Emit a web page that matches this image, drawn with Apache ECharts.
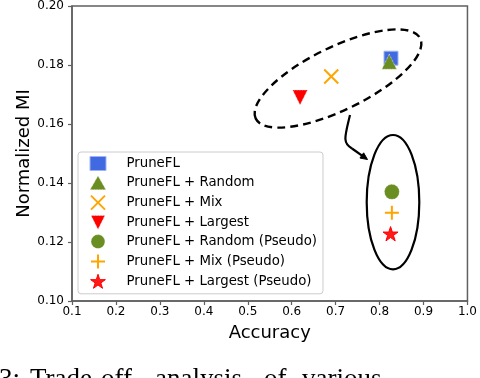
<!DOCTYPE html>
<html>
<head>
<meta charset="utf-8">
<script src="https://cdn.jsdelivr.net/npm/echarts@6/dist/echarts.min.js"></script>
<style>
html,body{margin:0;padding:0;background:#fff;}
#chart{width:480px;height:378px;}
</style>
</head>
<body>
<div id="chart"></div>
<script>
// ---- data ----
const seriesNames = [
  'PruneFL',
  'PruneFL + Random',
  'PruneFL + Mix',
  'PruneFL + Largest',
  'PruneFL + Random (Pseudo)',
  'PruneFL + Mix (Pseudo)',
  'PruneFL + Largest (Pseudo)'
];
const accuracy = [0.826, 0.822, 0.690, 0.619, 0.828, 0.828, 0.825];
const normalizedMI = [0.1823, 0.1811, 0.1761, 0.1690, 0.1370, 0.1299, 0.1228];
const xTicks = [0.1, 1.0, 0.1];   // min, max, step
const yTicks = [0.10, 0.20, 0.02];

// ---- styles ----
const STAR = 'path://M50,0L61.23,34.55L97.55,34.55L68.17,55.9L79.39,90.45L50,69.1L20.61,90.45L31.83,55.9L2.45,34.55L38.77,34.55Z';
const styles = [
  {symbol:'rect', size:14, item:{color:'#4169e1', borderColor:'#9fb4f3', borderWidth:1}},
  {symbol:'triangle', size:15, item:{color:'#6b8e23', borderColor:'rgba(255,255,255,0.85)', borderWidth:0.8, borderType:'dotted'}},
  {symbol:'path://M0,0L10,10M10,0L0,10', size:14, item:{color:'#ffa500', borderColor:'#ffa500', borderWidth:2}},
  {symbol:'path://M0,0L20,0L10,20Z', size:15, item:{color:'#ff0000', borderColor:'rgba(255,255,255,0.85)', borderWidth:0.8, borderType:'dotted'}},
  {symbol:'circle', size:15, item:{color:'#6b8e23', borderColor:'rgba(255,255,255,0.85)', borderWidth:0.8, borderType:'dotted'}},
  {symbol:'path://M5,0L5,10M0,5L10,5', size:14, item:{color:'#ffa500', borderColor:'#ffa500', borderWidth:2}},
  {symbol:STAR, size:15, item:{color:'#ff1a1a', borderColor:'#ff0000', borderWidth:1}}
];

const AXIS = '#606060';
const FONT = 'DejaVu Sans';

const series = seriesNames.map((n, i) => ({
  name: n,
  type: 'scatter',
  data: [[accuracy[i], normalizedMI[i]]],
  symbol: styles[i].symbol,
  symbolSize: styles[i].size,
  symbolKeepAspect: true,
  itemStyle: Object.assign({opacity:1}, styles[i].item),
  emphasis: {disabled: true},
  z: 5
}));

const legendData = seriesNames.map((n, i) => ({
  name: n,
  icon: styles[i].symbol,
  itemStyle: Object.assign({opacity:1}, styles[i].item)
}));

const chart = echarts.init(document.getElementById('chart'), null, {renderer:'canvas'});

// annotation helpers (pixel space decorations)
function arrowHead(tip, from, len, half) {
  const dx = tip[0]-from[0], dy = tip[1]-from[1];
  const d = Math.hypot(dx, dy), ux = dx/d, uy = dy/d;
  const bx = tip[0]-ux*len, by = tip[1]-uy*len;
  return [[tip[0], tip[1]], [bx - uy*half, by + ux*half], [bx + uy*half, by - ux*half]];
}
const arrowTip = [367.5, 159.5];
const arrowCtrl = [352, 148.5];

const captionWords = [
  {t:'3:', x:-1}, {t:'Trade-off', x:30}, {t:'analysis', x:155},
  {t:'of', x:264}, {t:'various', x:302}
];

const graphics = [
  {type:'ellipse', x:338, y:78.5, rotation: 26*Math.PI/180,
   shape:{cx:0, cy:0, rx:91.5, ry:31.5},
   style:{fill:'none', stroke:'#000', lineWidth:2.4, lineDash:[8,5]}, z:20},
  {type:'ellipse', shape:{cx:393, cy:202.2, rx:26.3, ry:67.2},
   style:{fill:'none', stroke:'#000', lineWidth:2.2}, z:20},
  {type:'bezierCurve', shape:{x1:350, y1:115, cpx1:345, cpy1:136, cpx2:342, cpy2:143, x2:arrowCtrl[0], y2:arrowCtrl[1]},
   style:{fill:'none', stroke:'#000', lineWidth:2.2}, z:20},
  {type:'line', shape:{x1:arrowCtrl[0], y1:arrowCtrl[1], x2:arrowTip[0]-3, y2:arrowTip[1]-2.2},
   style:{stroke:'#000', lineWidth:2.2}, z:20},
  {type:'polygon', shape:{points: arrowHead(arrowTip, arrowCtrl, 7, 3.2)},
   style:{fill:'#000', stroke:'#000', lineWidth:1}, z:21}
].concat(captionWords.map(w => ({
  type:'text', x:w.x, y:380, z:20,
  style:{text:w.t, fill:'#000', font:'27px "Liberation Serif"', verticalAlign:'middle', align:'left'}
})));

chart.setOption({
  animation: false,
  backgroundColor: '#fff',
  grid: {left:72, right:10, top:4, bottom:77, show:true, borderColor:AXIS, borderWidth:1.5, backgroundColor:'transparent'},
  xAxis: {
    type:'value', min:xTicks[0], max:xTicks[1], interval:xTicks[2],
    name:'Accuracy', nameLocation:'middle', nameGap:23,
    nameTextStyle:{fontFamily:FONT, fontSize:18, color:'#000'},
    axisLine:{show:true, onZero:false, lineStyle:{color:AXIS, width:1.5}},
    axisTick:{show:true, length:4, lineStyle:{color:AXIS, width:1.2}},
    axisLabel:{margin:5, fontFamily:FONT, fontSize:12, color:'#000', formatter:v => v.toFixed(1)},
    splitLine:{show:false}
  },
  yAxis: {
    type:'value', min:yTicks[0], max:yTicks[1], interval:yTicks[2],
    name:'Normalized MI', nameLocation:'middle', nameGap:39, nameMoveOverlap:false,
    nameTextStyle:{fontFamily:FONT, fontSize:18, color:'#000'},
    axisLine:{show:true, onZero:false, lineStyle:{color:AXIS, width:1.5}},
    axisTick:{show:true, length:4, lineStyle:{color:AXIS, width:1.2}},
    axisLabel:{margin:8, fontFamily:FONT, fontSize:12, color:'#000', formatter:v => v.toFixed(2)},
    splitLine:{show:false}
  },
  legend: {
    orient:'vertical', left:78, top:152,
    padding:[4,6,5,11.5],
    itemWidth:16, itemHeight:14, itemGap:4.4,
    backgroundColor:'rgba(255,255,255,0.85)', borderColor:'#cccccc', borderWidth:1, borderRadius:3,
    textStyle:{fontFamily:FONT, fontSize:13.3, lineHeight:14, color:'#000',
      rich:{g:{width:15.5, height:14}, t:{fontFamily:FONT, fontSize:13.3, lineHeight:14, color:'#000'}}},
    formatter: n => '{g|}{t|' + n + '}',
    data: legendData,
    selectedMode:false,
    z: 10
  },
  series: series,
  graphic: graphics
});
</script>
</body>
</html>
